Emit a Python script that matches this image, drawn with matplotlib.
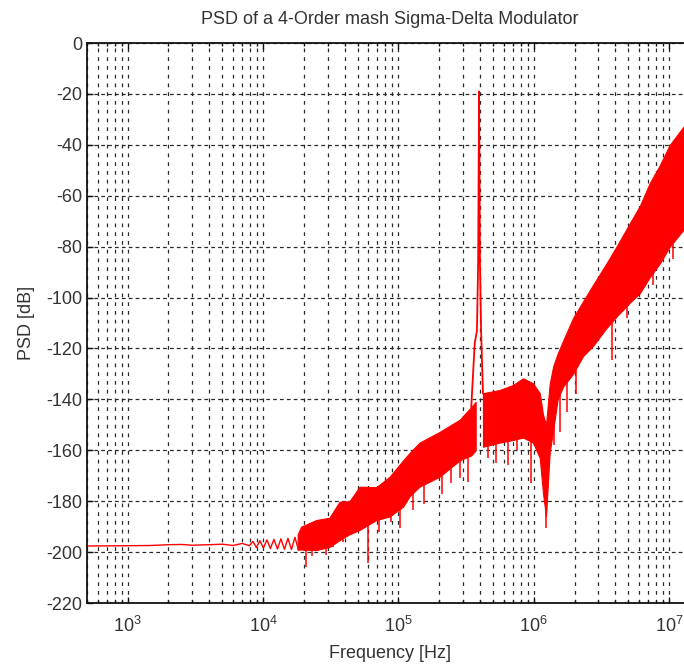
import numpy as np
import matplotlib
matplotlib.use("Agg")
import matplotlib.pyplot as plt
from matplotlib.ticker import LogLocator, NullFormatter

plt.rcParams['font.family'] = ['Liberation Sans', 'DejaVu Sans']
plt.rcParams['mathtext.default'] = 'regular'
plt.rcParams['axes.unicode_minus'] = False

# low frequency floor, a single thin trace (ripple starts near 8 kHz)
trace_freq = [500, 1e3, 1.5e3, 2e3, 2.5e3, 3e3, 4e3, 5e3, 6e3, 7e3,
              7.92e3, 8.41e3, 8.92e3, 9.47e3, 1.005e4, 1.067e4, 1.132e4, 1.202e4,
              1.276e4, 1.354e4, 1.437e4, 1.526e4, 1.619e4, 1.719e4, 1.825e4]
trace_db = [-197.6, -197.5, -197.4, -197.1, -197.0, -197.3, -197.1, -196.9, -197.4, -196.6,
            -197.5, -195.8, -198.2, -195.5, -198.4, -195.2, -198.6, -195.0,
            -198.8, -194.8, -198.9, -194.6, -199.0, -194.2, -199.2]

# noise band below the tone: upper and lower edge of the red mass
band_l_freq = [1.8e4, 1.91e4, 2.47e4, 3.09e4, 3.67e4, 4.35e4, 5.16e4, 6.85e4, 8.6e4,
               1.08e5, 1.21e5, 1.43e5, 2.01e5, 2.83e5, 3.45e5, 3.72e5]
band_l_top = [-193, -190, -187.4, -186.5, -180.2, -180, -174.3, -174.5, -170.4,
              -164, -161, -157, -152.8, -148, -143, -141]
band_l_bot = [-199, -199, -199.2, -198, -195.3, -193, -191.3, -187.4, -186,
              -182.2, -178, -174.3, -170.4, -164, -162, -160]

# noise band above the tone, rising to the right edge
band_r_freq = [4.21e5, 5.59e5, 6.98e5, 8.32e5, 9.87e5, 1.106e6, 1.17e6, 1.23e6, 1.31e6,
               1.39e6, 1.5e6, 1.644e6, 1.95e6, 2.31e6, 2.74e6, 3.44e6, 4.08e6,
               5.12e6, 6.07e6, 7.19e6, 8.53e6, 1.01e7, 1.27e7, 1.5e7]
band_r_top = [-137.6, -136.3, -134.4, -131.7, -133.7, -137.6, -146, -150, -134,
              -127, -122, -117, -108, -101.5, -95, -86.6, -80,
              -70.8, -64, -55, -48, -40, -33, -28]
band_r_bot = [-158.6, -157, -156, -155, -157, -163, -177, -186, -161,
              -152, -140, -135, -130, -123, -119, -112, -107.5,
              -102, -98.3, -92, -86.6, -80, -73.5, -69]

# deep downward spikes below the band
dip_freq = [2.08e4, 2.3e4, 2.92e4, 3.3e4, 3.9e4, 5.94e4, 7.2e4, 8.8e4, 1.02e5,
            1.27e5, 1.55e5, 2.1e5, 2.45e5, 2.83e5, 3.26e5, 4.6e5, 5.3e5, 6.47e5,
            7.5e5, 9.6e5, 1.235e6, 1.42e6, 1.55e6, 1.75e6, 2.05e6, 3.75e6,
            4.84e6, 7.57e6, 1.06e7]
dip_db = [-205.7, -201.5, -201, -198, -196, -204.3, -192, -188, -190.6,
          -183.5, -181, -177, -173, -171, -172.3, -163, -165, -165.8,
          -160, -173, -190.7, -158, -153, -145, -138, -124.5,
          -108, -95, -85]

# the input tone and its skirt
tone_freq = [3.45e5, 3.66e5, 3.8e5, 3.88e5, 3.94e5, 4.0e5, 4.08e5, 4.21e5]
tone_db = [-143, -118, -113, -86, -19, -86, -113, -137.6]

y_ticks = list(range(-220, 1, 20))

red = '#ff0000'
grid_c = '#2a2a2a'
text_c = '#333333'

fig = plt.figure(figsize=(6.84, 6.72), dpi=100)
ax = fig.add_axes([87/684, 69/672, 606/684, 560/672])
ax.set_xscale('log')
ax.set_xlim(500, 1.5e7)
ax.set_ylim(-220, 0)
ax.set_axisbelow(True)

ax.plot(trace_freq, trace_db, color=red, lw=1.0)
ax.fill_between(band_l_freq, band_l_bot, band_l_top, facecolor=red, edgecolor=red, lw=0.8)
ax.fill_between(band_r_freq, band_r_bot, band_r_top, facecolor=red, edgecolor=red, lw=0.8)

all_freq = np.log10(band_l_freq + band_r_freq)
all_bot = band_l_bot + band_r_bot
lower_at = np.interp(np.log10(dip_freq), all_freq, all_bot)
ax.vlines(dip_freq, dip_db, lower_at, color=red, lw=1.1)
ax.plot(tone_freq, tone_db, color=red, lw=1.3)

ax.set_yticks(y_ticks)
ax.xaxis.set_major_locator(LogLocator(base=10))
ax.xaxis.set_minor_locator(LogLocator(base=10, subs=np.arange(2, 10)))
ax.xaxis.set_minor_formatter(NullFormatter())

ax.grid(which='major', axis='y', color=grid_c, lw=0.9, ls=(0, (3, 2.5)))
ax.grid(which='both', axis='x', color=grid_c, lw=0.9, ls=(0, (3, 4)))

ax.tick_params(which='both', direction='in', top=True, right=False, colors='#111111',
               labelcolor=text_c, labelsize=13)
ax.tick_params(which='major', length=4, width=1)
ax.tick_params(which='minor', length=2.5, width=1)
ax.tick_params(axis='x', which='major', pad=9)
for s in ax.spines.values():
    s.set_linewidth(1.3)
    s.set_color('#111111')

ax.set_title('PSD of a 4-Order mash Sigma-Delta Modulator', fontsize=13, color=text_c, pad=14)
ax.set_xlabel('Frequency [Hz]', fontsize=13, color=text_c, labelpad=7)
ax.set_ylabel('PSD [dB]', fontsize=13, color=text_c, labelpad=8)

fig.savefig('out.png', dpi=100)
